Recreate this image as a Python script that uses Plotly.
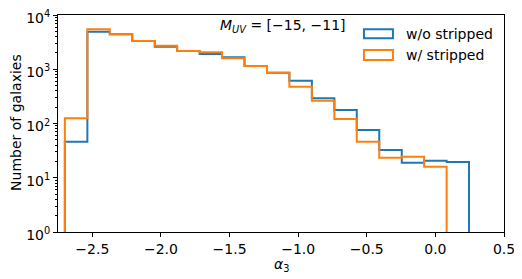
import plotly.graph_objects as go

# Data
bin_edges = [-2.700, -2.536, -2.373, -2.209, -2.045, -1.882, -1.718, -1.555, -1.391,
             -1.227, -1.064, -0.900, -0.736, -0.573, -0.409, -0.245, -0.082, 0.082, 0.245]
counts_wo = [46, 4930, 4400, 3320, 2610, 2170, 1910, 1660, 1150, 865, 615, 291, 177, 76, 32.5, 19, 20.6, 19.5]
counts_w = [125, 5450, 4400, 3320, 2720, 2170, 2050, 1590, 1150, 865, 478, 263, 121, 46, 23.4, 24.4, 16]
series_names = ["w/o stripped", "w/ stripped"]
colors = ["#1f77b4", "#ff7f0e"]
ytick_vals = [1, 10, 100, 1000, 10000]
ytick_text = ["10<sup>0</sup>", "10<sup>1</sup>", "10<sup>2</sup>", "10<sup>3</sup>", "10<sup>4</sup>"]
xtick_vals = [-2.5, -2.0, -1.5, -1.0, -0.5, 0.0, 0.5]
xtick_text = ["\u22122.5", "\u22122.0", "\u22121.5", "\u22121.0", "\u22120.5", "0.0", "0.5"]

FLOOR = 1e-3


def step_path(edges, counts):
    n = len(counts)
    xs = [edges[0]]
    ys = [FLOOR]
    for i in range(n):
        xs.append(edges[i])
        ys.append(counts[i])
    xs.append(edges[n])
    ys.append(counts[n - 1])
    xs.append(edges[n])
    ys.append(FLOOR)
    return xs, ys


fig = go.Figure()
for name, counts, col in zip(series_names, [counts_wo, counts_w], colors):
    xs, ys = step_path(bin_edges, counts)
    fig.add_trace(go.Scatter(x=xs, y=ys, mode="lines", line_shape="hv",
                             line=dict(color=col, width=2), name=name,
                             showlegend=False))

font = dict(family="DejaVu Sans", size=14, color="black")

# page body has an 8px margin: figure is 514x271 placed at (8, 8)
fig.update_layout(
    width=514, height=271,
    margin=dict(l=50, r=18, t=7, b=47, autoexpand=False),
    paper_bgcolor="white", plot_bgcolor="white",
    font=font,
    xaxis=dict(range=[-2.75, 0.5], tickvals=xtick_vals, ticktext=xtick_text,
               ticks="outside", ticklen=4, tickwidth=1, tickcolor="black",
               showline=True, linecolor="black", linewidth=1, mirror=True,
               showgrid=False, zeroline=False, automargin=False,
               ticklabeloverflow="allow", tickfont=font),
    yaxis=dict(type="log", range=[0, 4], tickvals=ytick_vals, ticktext=ytick_text,
               ticks="outside", ticklen=4, tickwidth=1, tickcolor="black",
               showline=True, linecolor="black", linewidth=1, mirror=True,
               showgrid=False, zeroline=False, automargin=False,
               ticklabeloverflow="allow", tickfont=font, ticklabelshift=3,
               minor=dict(ticks="outside", ticklen=2, tickcolor="black", dtick="D1", showgrid=False)),
)

# Axis titles
fig.add_annotation(xref="paper", yref="paper", x=0.5, y=-0.152, text="<i>\u03b1</i><sub>3</sub>",
                   showarrow=False, xanchor="center", yanchor="middle", font=font)
fig.add_annotation(xref="paper", yref="paper", x=-0.093, y=0.505, text="Number of galaxies",
                   textangle=-90, showarrow=False, xanchor="center", yanchor="middle", font=font)

# Manual legend (matplotlib-style rectangle handles)
leg_rows = [(0.934, 0.893), (0.839, 0.793)]
for (y1, y0), name, col in zip(leg_rows, series_names, colors):
    fig.add_shape(type="rect", xref="paper", yref="paper", x0=0.686, x1=0.751, y0=y0, y1=y1,
                  line=dict(color=col, width=2), fillcolor="rgba(0,0,0,0)")
    fig.add_annotation(xref="paper", yref="paper", x=0.776, y=(y0 + y1) / 2,
                       text=name, showarrow=False, xanchor="left", yanchor="middle", font=font)

fig.add_annotation(xref="paper", yref="paper", x=0.359, y=0.949,
                   text="<i>M</i><sub><i>UV</i></sub> = [\u221215, \u221211]",
                   showarrow=False, xanchor="left", yanchor="middle", font=font)

fig.write_html("out.html")
